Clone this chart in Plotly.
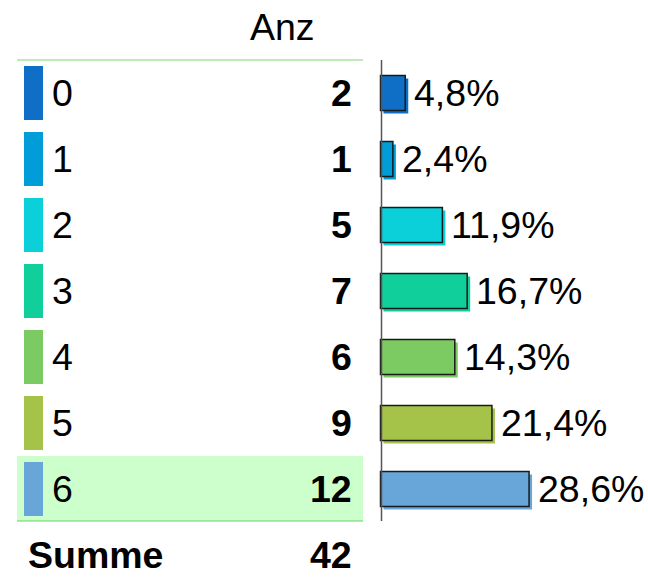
import plotly.graph_objects as go

categories = ["0", "1", "2", "3", "4", "5", "6"]
counts = [2, 1, 5, 7, 6, 9, 12]
colors = ["#0F6FC6", "#009DD9", "#0BD0D9", "#10CF9B", "#7CCA62", "#A5C249", "#68A6DA"]
header = "Anz"
total_label = "Summe"
highlight_index = 6

total = sum(counts)
pcts = [c / total * 100 for c in counts]
pct_labels = [f"{p:.1f}".replace(".", ",") + "%" for p in pcts]

W, H = 648, 583
FONT = "Liberation Sans, Arial, sans-serif"
FS = 37.5

# pixel geometry helpers (layout only)
ROW0, ROWH = 93.0, 66.0
X0PX, XSCALE = 380.5, 5.2


def px(x):
    return x / W


def yu(p):
    return (p - ROW0) / ROWH


ys = list(range(len(categories)))

fig = go.Figure()

# shadow bars
fig.add_trace(go.Bar(
    y=ys, x=pcts, orientation="h", base=3 / XSCALE,
    width=35 / ROWH, offset=-35 / ROWH / 2 + 3 / ROWH,
    marker=dict(color=colors, line=dict(width=0)),
    hoverinfo="skip", showlegend=False,
))
# main bars
fig.add_trace(go.Bar(
    y=ys, x=pcts, orientation="h", base=0,
    width=35 / ROWH, offset=-35 / ROWH / 2,
    marker=dict(color=colors, line=dict(color="#1a1a1a", width=1.5)),
    hoverinfo="skip", showlegend=False,
))

shapes = []
# highlight row
shapes.append(dict(type="rect", xref="paper", yref="y",
                   x0=px(17), x1=px(363), y0=highlight_index - 0.5, y1=highlight_index + 0.485,
                   fillcolor="#CCFFCC", line=dict(width=0), layer="below"))
# header line
shapes.append(dict(type="line", xref="paper", yref="y", x0=px(17), x1=px(363),
                   y0=-0.5, y1=-0.5, line=dict(color="#A8E4A0", width=1.5)))
# bottom line
shapes.append(dict(type="line", xref="paper", yref="y", x0=px(17), x1=px(363),
                   y0=len(categories) - 0.515, y1=len(categories) - 0.515,
                   line=dict(color="#66D166", width=1.2)))
# axis line
shapes.append(dict(type="line", xref="paper", yref="y", x0=px(381.5), x1=px(381.5),
                   y0=-0.5, y1=len(categories) - 0.515, line=dict(color="#555555", width=1.5)))
# swatches
for i, c in enumerate(colors):
    shapes.append(dict(type="rect", xref="paper", yref="y",
                       x0=px(24), x1=px(43), y0=i - 27 / ROWH, y1=i + 27 / ROWH,
                       fillcolor=c, line=dict(width=0)))

ann = []
ann.append(dict(text=header, xref="paper", yref="y", x=px(282), y=yu(27),
                xanchor="center", yanchor="middle", showarrow=False,
                font=dict(family=FONT, size=FS, color="#000")))
for i, (cat, cnt, lab, p) in enumerate(zip(categories, counts, pct_labels, pcts)):
    ann.append(dict(text=cat, xref="paper", yref="y", x=px(50), y=i,
                    xanchor="left", yanchor="middle", showarrow=False,
                    font=dict(family=FONT, size=FS, color="#000")))
    ann.append(dict(text=f"<b>{cnt}</b>", xref="paper", yref="y", x=px(354), y=i,
                    xanchor="right", yanchor="middle", showarrow=False,
                    font=dict(family=FONT, size=FS, color="#000")))
    ann.append(dict(text=lab, xref="x", yref="y", x=p, y=i, xshift=7,
                    xanchor="left", yanchor="middle", showarrow=False,
                    font=dict(family=FONT, size=FS, color="#000")))
ann.append(dict(text=f"<b>{total_label}</b>", xref="paper", yref="y", x=px(26), y=yu(555),
                xanchor="left", yanchor="middle", showarrow=False,
                font=dict(family=FONT, size=FS, color="#000")))
ann.append(dict(text=f"<b>{total}</b>", xref="paper", yref="y", x=px(354), y=yu(555),
                xanchor="right", yanchor="middle", showarrow=False,
                font=dict(family=FONT, size=FS, color="#000")))

fig.update_layout(
    width=W, height=H, margin=dict(l=0, r=0, t=0, b=0),
    paper_bgcolor="white", plot_bgcolor="rgba(0,0,0,0)",
    barmode="overlay", showlegend=False,
    shapes=shapes, annotations=ann,
    xaxis=dict(range=[-X0PX / XSCALE, (W - X0PX) / XSCALE], visible=False, fixedrange=True),
    yaxis=dict(range=[yu(H), yu(0)], visible=False, fixedrange=True),
)

fig.write_html("out.html", config={"displayModeBar": False},
               post_script="document.body.style.margin='0';document.body.style.overflow='hidden';")
